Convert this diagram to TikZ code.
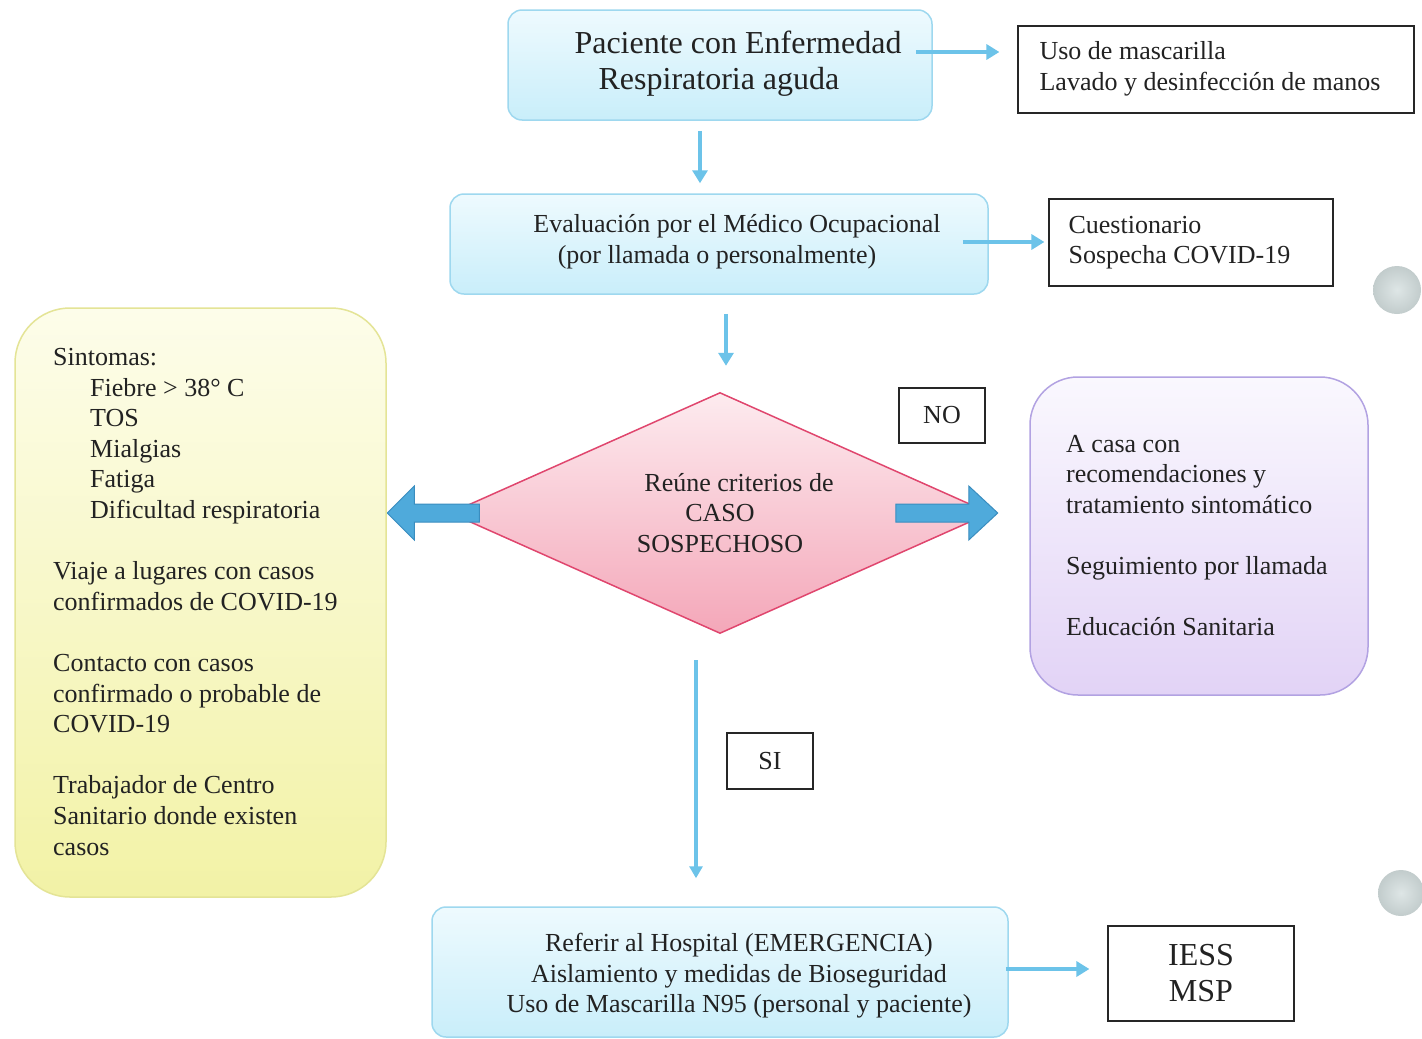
\documentclass[tikz,border=0pt]{standalone}
\usepackage{fontspec}
\setmainfont{Liberation Serif}
\usetikzlibrary{shapes.geometric,arrows.meta,calc}

\definecolor{txtc}{HTML}{222222}
\definecolor{bluetop}{HTML}{EEFAFE}
\definecolor{bluebot}{HTML}{C9EEFA}
\definecolor{blueborder}{HTML}{9ED8EF}
\definecolor{arrowc}{HTML}{6CC3E9}
\definecolor{blockfill}{HTML}{4FAADB}
\definecolor{blockdraw}{HTML}{3A8DBF}
\definecolor{pinktop}{HTML}{FDEBEF}
\definecolor{pinkbot}{HTML}{F4A7B9}
\definecolor{pinkdraw}{HTML}{E0466E}
\definecolor{yeltop}{HTML}{FDFDEA}
\definecolor{yelbot}{HTML}{F2F2A6}
\definecolor{yeldraw}{HTML}{E4E496}
\definecolor{purtop}{HTML}{FAF8FE}
\definecolor{purbot}{HTML}{E2D3F6}
\definecolor{purdraw}{HTML}{B2A2E2}
\definecolor{greyin}{HTML}{DEE6E6}
\definecolor{greyout}{HTML}{C2CCCC}

\begin{document}
\begin{tikzpicture}[x=1pt,y=-1pt,
  bluebox/.style={draw=blueborder, line width=1.5pt, rounded corners=14pt,
    top color=bluetop, bottom color=bluebot},
  plainbox/.style={draw=black!85, line width=1.2pt, fill=white, inner sep=0pt},
  txt/.style={text=txtc, font=\fontsize{26}{30.6}\selectfont, inner sep=0pt},
  bigtxt/.style={text=txtc, font=\fontsize{32}{36}\selectfont, inner sep=0pt},
  conn/.style={draw=arrowc, line width=3.5pt, -{Triangle[length=13pt,width=15pt]}},
  blockarrow/.style={draw=blockdraw, line width=1pt, fill=blockfill},
  ballc/.style={circle, inner sep=0pt, minimum size=48pt, inner color=greyin, outer color=greyout}
]
\useasboundingbox[fill=white] (0,0) rectangle (1422,1039);

% ---------- top ----------
\node[bluebox, minimum width=424pt, minimum height=110pt] (top) at (720,65) {};
\node[bigtxt, align=center] (topt) at (729,64) {\hspace*{18pt}Paciente con Enfermedad\\Respiratoria aguda\hspace*{20pt}};

\node[plainbox, minimum width=396pt, minimum height=87pt] (uso) at (1216,69.5) {};
\node[txt, align=left, anchor=west] (usot) at ($(uso.west)+(22,-1)$) {Uso de mascarilla\\Lavado y desinfección de manos};

% ---------- evaluation ----------
\node[bluebox, minimum width=538pt, minimum height=100pt] (eval) at (719,244) {};
\node[txt, align=center] (evalt) at (737,242) {Evaluación por el Médico Ocupacional\\(por llamada o personalmente)\hspace*{40pt}};

\node[plainbox, minimum width=284pt, minimum height=87pt] (cuest) at (1191,242.5) {};
\node[txt, align=left, anchor=west] (cuestt) at ($(cuest.west)+(20,0)$) {Cuestionario\\Sospecha COVID-19};

\node[ballc] (ball1) at (1397,290) {};

% ---------- decision ----------
\node[diamond, aspect=2.24, minimum width=540pt, minimum height=241pt, inner sep=0pt,
  draw=pinkdraw, line width=1.5pt, top color=pinktop, bottom color=pinkbot,
  text=txtc, font=\fontsize{26}{30.6}\selectfont, align=center] (dec) at (720,513)
  {\hspace*{38pt}Reúne criterios de\\CASO\\SOSPECHOSO};

\node[plainbox, minimum width=86pt, minimum height=55pt, txt] (no) at (942,415.5) {NO};

% left block arrow
\coordinate (la) at (dec.west);
\path[blockarrow] ($(la)+(-62,0)$) -- ++(27,-27) -- ++(0,18) -- ++(65,0) -- ++(0,18)
  -- ++(-65,0) -- ++(0,18) -- cycle;
% right block arrow
\coordinate (ra) at (dec.east);
\path[blockarrow] ($(ra)+(7,0)$) -- ++(-29,-27) -- ++(0,18) -- ++(-73,0) -- ++(0,18)
  -- ++(73,0) -- ++(0,18) -- cycle;

% ---------- left yellow box ----------
\node[draw=yeldraw, line width=1.5pt, rounded corners=55pt, top color=yeltop, bottom color=yelbot,
  minimum width=371pt, minimum height=589pt, inner sep=0pt] (sym) at (200.5,602.5) {};
\node[txt, align=left, anchor=north west] (symt) at (53,348) {Sintomas:\\
\hspace*{37pt}Fiebre > 38° C\\
\hspace*{37pt}TOS\\
\hspace*{37pt}Mialgias\\
\hspace*{37pt}Fatiga\\
\hspace*{37pt}Dificultad respiratoria\\[30.6pt]
Viaje a lugares con casos\\
confirmados de COVID-19\\[30.6pt]
Contacto con casos\\
confirmado o probable de\\
COVID-19\\[30.6pt]
Trabajador de Centro\\
Sanitario donde existen\\
casos};

% ---------- right purple box ----------
\node[draw=purdraw, line width=1.5pt, rounded corners=48pt, top color=purtop, bottom color=purbot,
  minimum width=338pt, minimum height=318pt, inner sep=0pt] (home) at (1199,536) {};
\node[txt, align=left, anchor=north west] (homet) at (1066,435) {A casa con\\
recomendaciones y\\
tratamiento sintomático\\[30.5pt]
Seguimiento por llamada\\[30.5pt]
Educación Sanitaria};

% ---------- SI ----------
\node[plainbox, minimum width=86pt, minimum height=56pt, txt] (si) at (770,761) {SI};

% ---------- bottom ----------
\node[bluebox, minimum width=576pt, minimum height=130pt] (hosp) at (720,972) {};
\node[txt, align=center] (hospt) at (739,976) {Referir al Hospital (EMERGENCIA)\\Aislamiento y medidas de Bioseguridad\\Uso de Mascarilla N95 (personal y paciente)};

\node[plainbox, minimum width=186pt, minimum height=95pt, bigtxt, align=center] (iess) at (1201,973.5) {IESS\\MSP};

\node[ballc, minimum size=46pt] (ball2) at (1401,893) {};

% ---------- connectors ----------
\draw[conn] ($(top.east)+(-17,-13)$) -- ($(uso.west)+(-18,-17.5)$);
\draw[conn] ($(top.south)+(-20,10)$) -- ($(eval.north)+(-19,-10)$);
\draw[conn] ($(eval.east)+(-26,-2)$) -- ($(cuest.west)+(-4,-0.5)$);
\draw[conn] ($(eval.south)+(7,19)$) -- ($(dec.north)+(6,-26)$);
\draw[conn, -{Triangle[length=12pt,width=13pt]}] ($(dec.south)+(-24,26)$) -- ($(hosp.north)+(-24,-28)$);
\draw[conn] ($(hosp.east)+(-3,-3)$) -- ($(iess.west)+(-18,-4.5)$);
\end{tikzpicture}
\end{document}
